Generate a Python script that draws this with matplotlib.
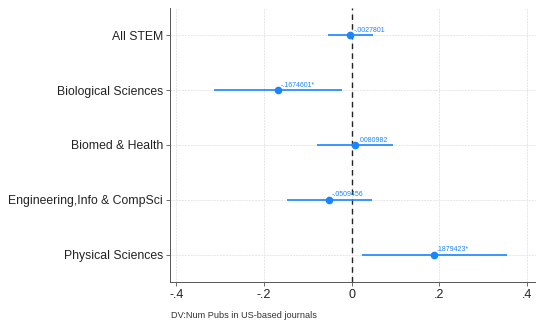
import matplotlib
matplotlib.use("Agg")
from matplotlib import pyplot as plt

plt.rcParams['font.family'] = ['Liberation Sans', 'DejaVu Sans']

# coefficient plot data
fields = ['All STEM', 'Biological Sciences', 'Biomed & Health',
          'Engineering,Info & CompSci', 'Physical Sciences']
coefs = [-0.0027801, -0.1674601, 0.0080982, -0.0509456, 0.1879423]
ci_low = [-0.055, -0.315, -0.078, -0.148, 0.023]
ci_high = [0.049, -0.021, 0.095, 0.046, 0.354]
labels = ['-.0027801', '-.1674601*', '.0080982', '-.0509456', '.1879423*']
xticks = [-0.4, -0.2, 0, 0.2, 0.4]
xticklabels = ['-.4', '-.2', '0', '.2', '.4']

blue = '#1a85ff'

fig = plt.figure(figsize=(5.36, 3.24), dpi=100)
ax = fig.add_axes([0.317, 0.130, 0.683, 0.845])

ypos = list(range(1, len(fields) + 1))
ax.hlines(ypos, ci_low, ci_high, color=blue, lw=1.2, zorder=3)
ax.plot(coefs, ypos, 'o', color=blue, ms=4.5, zorder=4)
for x, y, s in zip(coefs, ypos, labels):
    ax.annotate(s, (x, y), xytext=(2, 1), textcoords='offset points',
                color=blue, fontsize=5, ha='left', va='bottom')

ax.axvline(0, color='#222222', lw=1, ls=(0, (4, 3)), zorder=2)

ax.set_xlim(-0.415, 0.421)
ax.set_ylim(5.5, 0.5)
ax.set_yticks(ypos)
ax.set_yticklabels(fields, fontsize=8.8, color='#222222')
ax.set_xticks(xticks)
ax.set_xticklabels(xticklabels, fontsize=9, color='#222222')
ax.tick_params(length=3, width=0.6, color='#555555', pad=2)
ax.grid(True, color='#e6e6e6', lw=0.7, ls=(0, (2, 1)))
ax.set_axisbelow(True)
for side in ['top', 'right']:
    ax.spines[side].set_visible(False)
for side in ['left', 'bottom']:
    ax.spines[side].set_color('#555555')
    ax.spines[side].set_linewidth(0.7)

fig.text(0.319, 0.012, 'DV:Num Pubs in US-based journals', fontsize=6.6,
         color='#333333', ha='left', va='bottom')

fig.savefig('out.png', dpi=100)
